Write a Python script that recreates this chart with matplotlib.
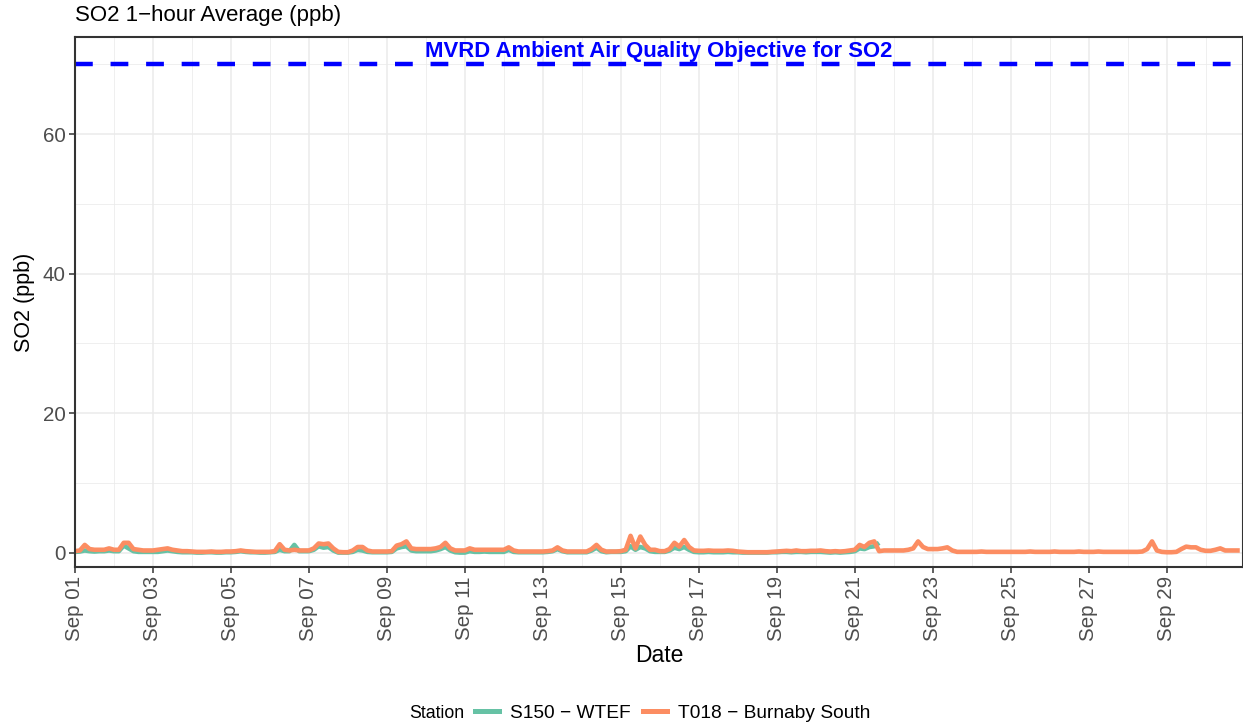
import numpy as np
import pandas as pd
import matplotlib
matplotlib.use("Agg")
import matplotlib.pyplot as plt
import matplotlib.dates as mdates
import matplotlib.transforms as mtransforms
from matplotlib.lines import Line2D

plt.rcParams['font.family'] = ['Liberation Sans', 'DejaVu Sans']

# %%
# SO2 readings (ppb), one row per day, 3-hourly values (00,03,...,21h)
t018_days = [
    [0.2, 0.3, 1.1, 0.5, 0.4, 0.4, 0.4, 0.6],
    [0.4, 0.4, 1.4, 1.4, 0.5, 0.4, 0.3, 0.3],
    [0.3, 0.4, 0.5, 0.6, 0.4, 0.3, 0.2, 0.2],
    [0.15, 0.1, 0.1, 0.1, 0.15, 0.1, 0.1, 0.15],
    [0.15, 0.2, 0.3, 0.2, 0.15, 0.1, 0.1, 0.1],
    [0.1, 0.2, 1.2, 0.4, 0.3, 0.4, 0.3, 0.3],
    [0.3, 0.6, 1.3, 1.2, 1.3, 0.6, 0.1, 0.05],
    [0.05, 0.3, 0.8, 0.8, 0.3, 0.15, 0.15, 0.15],
    [0.15, 0.2, 1.0, 1.2, 1.6, 0.6, 0.5, 0.5],
    [0.5, 0.5, 0.6, 0.8, 1.4, 0.6, 0.3, 0.3],
    [0.3, 0.6, 0.4, 0.4, 0.4, 0.4, 0.4, 0.4],
    [0.4, 0.75, 0.3, 0.15, 0.15, 0.15, 0.15, 0.15],
    [0.15, 0.2, 0.3, 0.75, 0.3, 0.15, 0.15, 0.15],
    [0.15, 0.15, 0.5, 1.1, 0.4, 0.15, 0.15, 0.15],
    [0.2, 0.4, 2.4, 0.6, 2.3, 1.1, 0.4, 0.4],
    [0.2, 0.2, 0.5, 1.4, 0.85, 1.8, 0.8, 0.3],
    [0.25, 0.25, 0.3, 0.25, 0.25, 0.25, 0.3, 0.25],
    [0.15, 0.1, 0.05, 0.05, 0.05, 0.05, 0.05, 0.1],
    [0.15, 0.2, 0.25, 0.2, 0.3, 0.2, 0.2, 0.25],
    [0.25, 0.3, 0.2, 0.15, 0.2, 0.15, 0.2, 0.3],
    [0.4, 1.1, 0.8, 1.4, 1.6, 0.2, 0.3, 0.3],
    [0.3, 0.3, 0.3, 0.4, 0.6, 1.6, 0.8, 0.5],
    [0.5, 0.5, 0.6, 0.75, 0.3, 0.1, 0.1, 0.1],
    [0.1, 0.1, 0.15, 0.1, 0.1, 0.1, 0.1, 0.1],
    [0.1, 0.1, 0.1, 0.1, 0.15, 0.1, 0.1, 0.1],
    [0.1, 0.15, 0.1, 0.1, 0.1, 0.1, 0.15, 0.1],
    [0.1, 0.1, 0.15, 0.1, 0.1, 0.1, 0.1, 0.1],
    [0.1, 0.1, 0.1, 0.15, 0.5, 1.6, 0.3, 0.1],
    [0.05, 0.05, 0.1, 0.5, 0.85, 0.75, 0.75, 0.4],
    [0.25, 0.25, 0.4, 0.6, 0.3, 0.3, 0.3, 0.3],
]

s150_days = [
    [0.1, 0.15, 0.3, 0.2, 0.15, 0.2, 0.2, 0.3],
    [0.2, 0.2, 1.0, 0.6, 0.2, 0.1, 0.1, 0.1],
    [0.1, 0.1, 0.2, 0.3, 0.2, 0.1, 0.05, 0.05],
    [0.05, 0.0, 0.0, 0.05, 0.05, 0.0, 0.0, 0.05],
    [0.05, 0.1, 0.2, 0.1, 0.05, 0.05, 0.0, 0.0],
    [0.05, 0.1, 0.4, 0.2, 0.2, 1.1, 0.2, 0.2],
    [0.2, 0.4, 0.9, 0.7, 0.8, 0.3, 0.0, 0.0],
    [0.0, 0.1, 0.4, 0.3, 0.1, 0.05, 0.05, 0.05],
    [0.05, 0.1, 0.6, 0.8, 0.9, 0.3, 0.2, 0.2],
    [0.2, 0.2, 0.3, 0.5, 0.8, 0.3, 0.05, 0.0],
    [0.0, 0.2, 0.1, 0.1, 0.15, 0.1, 0.1, 0.1],
    [0.1, 0.4, 0.1, 0.05, 0.05, 0.05, 0.05, 0.05],
    [0.05, 0.1, 0.2, 0.5, 0.2, 0.05, 0.05, 0.05],
    [0.05, 0.05, 0.3, 0.7, 0.2, 0.05, 0.1, 0.1],
    [0.1, 0.2, 0.9, 0.4, 0.8, 0.6, 0.2, 0.1],
    [0.1, 0.1, 0.3, 0.7, 0.5, 0.8, 0.4, 0.1],
    [0.05, 0.05, 0.1, 0.05, 0.05, 0.05, 0.1, 0.05],
    [0.05, 0.0, 0.0, 0.0, 0.0, 0.0, 0.0, 0.05],
    [0.05, 0.1, 0.1, 0.05, 0.1, 0.1, 0.05, 0.1],
    [0.1, 0.1, 0.05, 0.0, 0.05, 0.0, 0.05, 0.1],
    [0.2, 0.6, 0.5, 0.8, 0.9, 1.4],
]

stations = ['S150 \u2212 WTEF', 'T018 \u2212 Burnaby South']
colors = ['#66C2A5', '#FC8D62']
objective = 70

# %%
t018 = np.concatenate(t018_days)
s150 = np.concatenate(s150_days)
t018_time = pd.date_range('2023-09-01', periods=len(t018), freq='3h')
s150_time = pd.date_range('2023-09-01', periods=len(s150), freq='3h')

# %%
fig = plt.figure(figsize=(12.43, 7.27), dpi=100)
ax = fig.add_axes([75/1243, 1 - 567/727, 1168/1243, (567 - 37.3)/727])

ax.plot(s150_time, s150, color=colors[0], lw=3.3, solid_capstyle='butt')
ax.plot(t018_time, t018, color=colors[1], lw=3.3, solid_capstyle='butt')

ax.axhline(objective, color='#0000FF', lw=3.2, dashes=(4, 4))
trans = mtransforms.blended_transform_factory(ax.transAxes, ax.transData)
ax.text(0.5, objective + 1.1, 'MVRD Ambient Air Quality Objective for SO2',
        transform=trans, ha='center', va='baseline', color='#0000FF',
        fontweight='bold', fontsize=15.9)

ax.set_xlim(pd.Timestamp('2023-09-01'), pd.Timestamp('2023-09-30 23:00'))
ax.set_ylim(-2.07, 73.9)

ax.set_yticks([0, 20, 40, 60])
ax.set_yticks([10, 30, 50, 70], minor=True)
ax.xaxis.set_major_locator(mdates.DayLocator(bymonthday=range(1, 31, 2)))
ax.xaxis.set_minor_locator(mdates.DayLocator(bymonthday=range(2, 31, 2)))
ax.xaxis.set_major_formatter(mdates.DateFormatter('%b %d'))
plt.setp(ax.get_xticklabels(), rotation=90, ha='center', va='top')

ax.grid(which='major', color='#EBEBEB', lw=1.1)
ax.grid(which='minor', color='#EBEBEB', lw=0.55)
ax.set_axisbelow(True)
ax.tick_params(which='major', length=4, width=1.1, color='#333333',
               labelsize=14.8, labelcolor='#4D4D4D', pad=2.5)
ax.tick_params(which='minor', length=0)
for sp in ax.spines.values():
    sp.set_color('#333333')
    sp.set_linewidth(1.5)

ax.set_xlabel('Date', fontsize=16.5, labelpad=2)
ax.set_ylabel('SO2 (ppb)', fontsize=15.5, labelpad=6)
fig.text(75/1243, 1 - 16/727, 'SO2 1\u2212hour Average (ppb)', fontsize=16,
         ha='left', va='center')

handles = [Line2D([], [], color=c, lw=3.6) for c in colors]
fig.text(409/1243, 1 - 713/727, 'Station', fontsize=12.8, ha='left', va='center')
fig.legend(handles, stations, loc='center left', bbox_to_anchor=(475/1243, 1 - 713/727),
           ncol=2, frameon=False, fontsize=13.8, handlelength=1.25,
           handletextpad=0.57, columnspacing=0.63, borderaxespad=0, borderpad=0)

fig.savefig('out.png', dpi=100)
